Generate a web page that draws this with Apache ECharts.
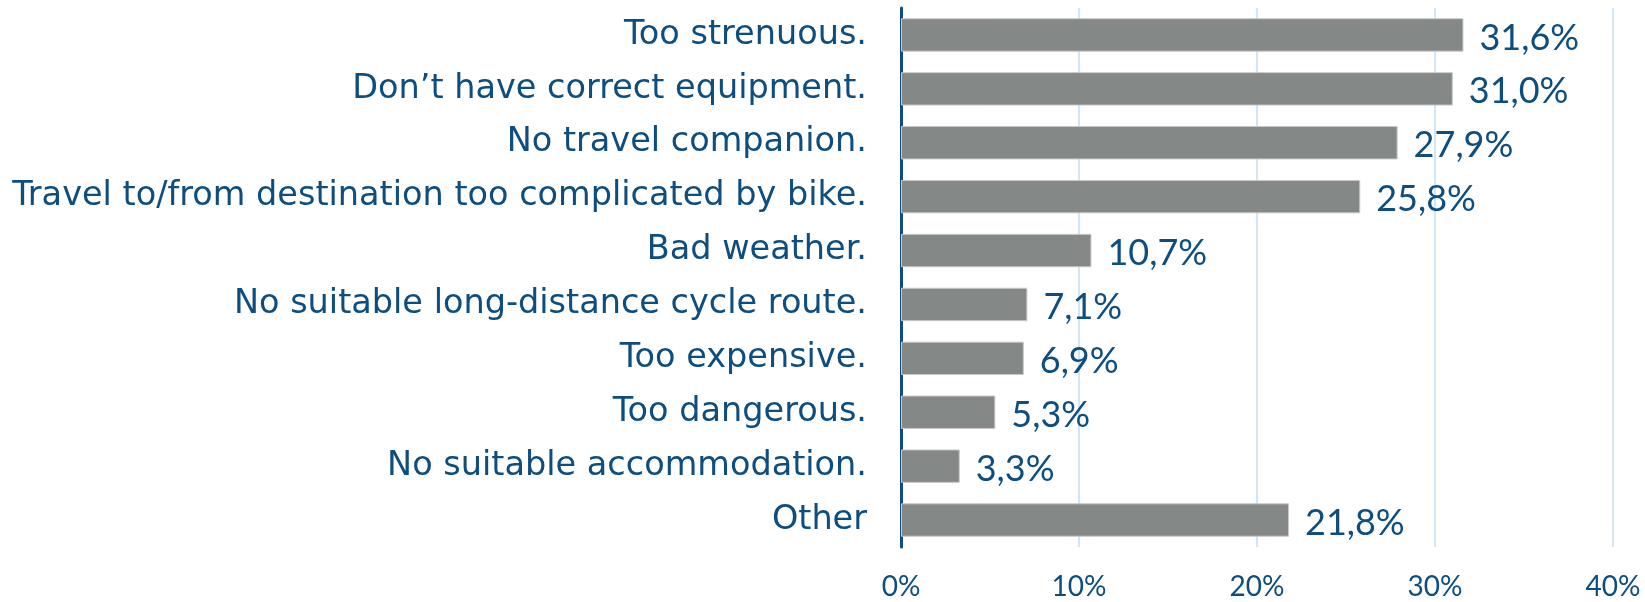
<!DOCTYPE html>
<html>
<head>
<meta charset="utf-8">
<script src="https://cdn.jsdelivr.net/npm/echarts@6/dist/echarts.min.js"></script>
<style>
  html, body { margin: 0; padding: 0; background: #fff; }
  #chart { width: 1645px; height: 602px; }
</style>
</head>
<body>
<div id="chart"></div>
<script>
const categories = [
  'Too strenuous.',
  'Don\u2019t have correct equipment.',
  'No travel companion.',
  'Travel to/from destination too complicated by bike.',
  'Bad weather.',
  'No suitable long-distance cycle route.',
  'Too expensive.',
  'Too dangerous.',
  'No suitable accommodation.',
  'Other'
];
const shares = [31.6, 31.0, 27.9, 25.8, 10.7, 7.1, 6.9, 5.3, 3.3, 21.8];
const ticks = [0, 10, 20, 30, 40];

const textColor = '#0d4d7f';

const chart = echarts.init(document.getElementById('chart'));

chart.setOption({
  animation: false,
  grid: { left: 901, right: 32, top: 8, bottom: 55, containLabel: false },
  xAxis: {
    type: 'value',
    min: ticks[0],
    max: ticks[ticks.length - 1],
    interval: 10,
    axisLine: { show: false },
    axisTick: { show: false },
    axisLabel: {
      color: textColor,
      fontFamily: 'Lato',
      fontSize: 28,
      margin: 26,
      formatter: v => v + '%'
    },
    splitLine: { lineStyle: { color: '#cfe6f8', width: 2 } }
  },
  yAxis: {
    type: 'category',
    inverse: true,
    data: categories,
    axisLine: { show: true, lineStyle: { color: '#0d4d7f', width: 3 } },
    axisTick: { show: false },
    axisLabel: {
      color: textColor,
      fontFamily: 'DejaVu Sans',
      fontSize: 33.5,
      margin: 34
    }
  },
  series: [{
    type: 'bar',
    data: shares,
    barCategoryGap: '38%',
    itemStyle: { color: '#848887', borderColor: '#c9c9c9', borderWidth: 1 },
    label: {
      show: true,
      position: 'right',
      distance: 16,
      offset: [0, 3],
      color: textColor,
      fontFamily: 'Lato',
      fontSize: 36,
      formatter: p => p.value.toFixed(1).replace('.', ',') + '%'
    }
  }]
});
</script>
</body>
</html>
